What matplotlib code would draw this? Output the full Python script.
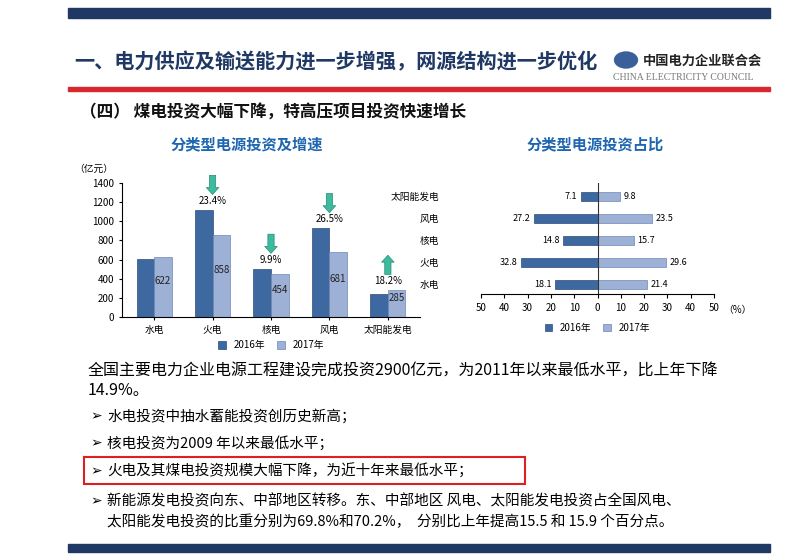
import matplotlib
matplotlib.use("Agg")
import matplotlib.pyplot as plt
from matplotlib.patches import Rectangle, Circle
import numpy as np

plt.rcParams['font.family'] = ['Noto Sans CJK SC', 'DejaVu Sans']

categories = ["水电", "火电", "核电", "风电", "太阳能发电"]
inv_2016 = [610, 1120, 505, 930, 240]
inv_2017 = [622, 858, 454, 681, 285]
growth = [None, "23.4%", "9.9%", "26.5%", "18.2%"]
growth_up = [None, False, False, False, True]

share_cats = ["水电", "火电", "核电", "风电", "太阳能发电"]
share_2016 = [18.1, 32.8, 14.8, 27.2, 7.1]
share_2017 = [21.4, 29.6, 15.7, 23.5, 9.8]

DARK = "#3e69a0"
LIGHT = "#9db0d6"
NAVY = "#1f3864"
TEAL = "#3dbb9f"

W, H = 800, 560
fig = plt.figure(figsize=(8, 5.6), dpi=100)


def fx(x):
    return x / W


def fy(y):
    return 1 - y / H


def box(x0, y0, x1, y1):
    return [fx(x0), fy(y1), fx(x1) - fx(x0), fy(y0) - fy(y1)]


# slide decorations
fig.patches.append(Rectangle((fx(68), fy(18)), fx(770) - fx(68), 10 / H,
                             transform=fig.transFigure, color=NAVY))
fig.patches.append(Rectangle((fx(68), fy(91)), fx(770) - fx(68), 4 / H,
                             transform=fig.transFigure, color="#d9272e"))
fig.patches.append(Rectangle((fx(68), fy(552)), fx(770) - fx(68), 8 / H,
                             transform=fig.transFigure, color=NAVY))
fig.text(fx(74), fy(62), "一、电力供应及输送能力进一步增强，网源结构进一步优化",
         fontsize=14.5, fontweight="bold", color=NAVY, va="center")
fig.text(fx(643), fy(61), "中国电力企业联合会", fontsize=9.5, fontweight="bold",
         color="#222222", va="center")
fig.text(fx(613), fy(77), "CHINA ELECTRICITY COUNCIL", fontsize=7, color="#777777",
         va="center", family="Liberation Serif")
fig.patches.append(Circle((fx(626), fy(60)), 8 / H, transform=fig.transFigure,
                          color="#3a5f9a"))
fig.text(fx(80), fy(112), "（四） 煤电投资大幅下降，特高压项目投资快速增长",
         fontsize=12, fontweight="bold", color="#111111", va="center")
fig.text(fx(247), fy(144), "分类型电源投资及增速", fontsize=11, fontweight="bold",
         color="#1f66b0", ha="center", va="center")
fig.text(fx(595), fy(144), "分类型电源投资占比", fontsize=11, fontweight="bold",
         color="#1f66b0", ha="center", va="center")

# left chart: grouped bars
ax = fig.add_axes(box(122, 183, 420, 317))
x = np.arange(len(categories))
bw = 0.3
ax.bar(x - bw / 2, inv_2016, bw, color=DARK, edgecolor="#2a4d7a", linewidth=0.5, label="2016年")
ax.bar(x + bw / 2, inv_2017, bw, color=LIGHT, edgecolor="#6f86b5", linewidth=0.5, label="2017年")
for i, v in enumerate(inv_2017):
    ax.text(x[i] + bw / 2, v / 2 + 60, str(v), ha="center", va="center", fontsize=7, color="#222222")
for i, g in enumerate(growth):
    if g is None:
        continue
    top = max(inv_2016[i], inv_2017[i])
    ax.text(x[i], top + 40, g, ha="center", va="bottom", fontsize=7)
    base = top + 160
    if growth_up[i]:
        start, end = (x[i], base), (x[i], base + 200)
    else:
        start, end = (x[i], base + 200), (x[i], base)
    ax.annotate("", xy=end, xytext=start, annotation_clip=False,
                arrowprops=dict(arrowstyle="simple,head_length=0.5,head_width=0.9,tail_width=0.45",
                                fc=TEAL, ec="#2a8a74", lw=0.5, shrinkA=0, shrinkB=0))
ax.set_xlim(-0.55, 4.55)
ax.set_ylim(0, 1400)
ax.set_yticks(range(0, 1401, 200))
ax.set_xticks(x)
ax.set_xticklabels(categories, fontsize=7.5)
ax.tick_params(labelsize=7, length=2)
for s in ["top", "right"]:
    ax.spines[s].set_visible(False)
ax.text(-0.16, 1.08, "（亿元）", transform=ax.transAxes, fontsize=7)
ax.legend(loc="upper center", bbox_to_anchor=(0.5, -0.11), ncol=2, frameon=False,
          fontsize=7, handlelength=0.8, handleheight=0.8, columnspacing=1.2)

# right chart: butterfly bars
ax2 = fig.add_axes(box(481, 183, 714, 294))
y = np.arange(len(share_cats))
bh = 0.4
ax2.barh(y, [-v for v in share_2016], bh, color=DARK, edgecolor="#2a4d7a", linewidth=0.5, label="2016年")
ax2.barh(y, share_2017, bh, color=LIGHT, edgecolor="#6f86b5", linewidth=0.5, label="2017年")
for i in range(len(share_cats)):
    ax2.text(-share_2016[i] - 1.5, y[i], f"{share_2016[i]:.1f}", ha="right", va="center", fontsize=6.5)
    ax2.text(share_2017[i] + 1.5, y[i], f"{share_2017[i]:.1f}", ha="left", va="center", fontsize=6.5)
ax2.set_xlim(-50, 50)
ax2.set_ylim(-0.45, 4.6)
ax2.set_xticks(range(-50, 51, 10))
ax2.set_xticklabels([str(abs(t)) for t in range(-50, 51, 10)])
ax2.set_yticks(y)
ax2.set_yticklabels(share_cats, fontsize=7)
ax2.tick_params(axis="y", length=0, pad=30)
ax2.tick_params(axis="x", labelsize=7, length=3)
ax2.axvline(0, color="#333333", linewidth=0.8)
for s in ["top", "right", "left"]:
    ax2.spines[s].set_visible(False)
ax2.text(1.04, -0.1, "（%）", transform=ax2.transAxes, fontsize=7, va="top")
ax2.legend(loc="upper center", bbox_to_anchor=(0.5, -0.18), ncol=2, frameon=False,
           fontsize=7, handlelength=0.8, handleheight=0.8, columnspacing=1.2)

# body text
fig.text(fx(88), fy(371), "全国主要电力企业电源工程建设完成投资2900亿元，为2011年以来最低水平，比上年下降",
         fontsize=11.5, va="center")
fig.text(fx(88), fy(391), "14.9%。", fontsize=11.5, va="center")
bullets = [
    (416, "水电投资中抽水蓄能投资创历史新高；"),
    (443, "核电投资为2009 年以来最低水平；"),
    (471, "火电及其煤电投资规模大幅下降，为近十年来最低水平；"),
    (501, "新能源发电投资向东、中部地区转移。东、中部地区 风电、太阳能发电投资占全国风电、"),
]
for yy, t in bullets:
    fig.text(fx(90), fy(yy), "➢", fontsize=10, va="center", family="DejaVu Sans")
    fig.text(fx(107), fy(yy), t, fontsize=10.5, va="center")
fig.text(fx(107), fy(522), "太阳能发电投资的比重分别为69.8%和70.2%，  分别比上年提高15.5 和 15.9 个百分点。",
         fontsize=10.5, va="center")
fig.patches.append(Rectangle((fx(84), fy(484)), fx(525) - fx(84), 27 / H,
                             transform=fig.transFigure, fill=False,
                             edgecolor="#e02020", linewidth=1.5))

fig.savefig("out.png", dpi=100)
